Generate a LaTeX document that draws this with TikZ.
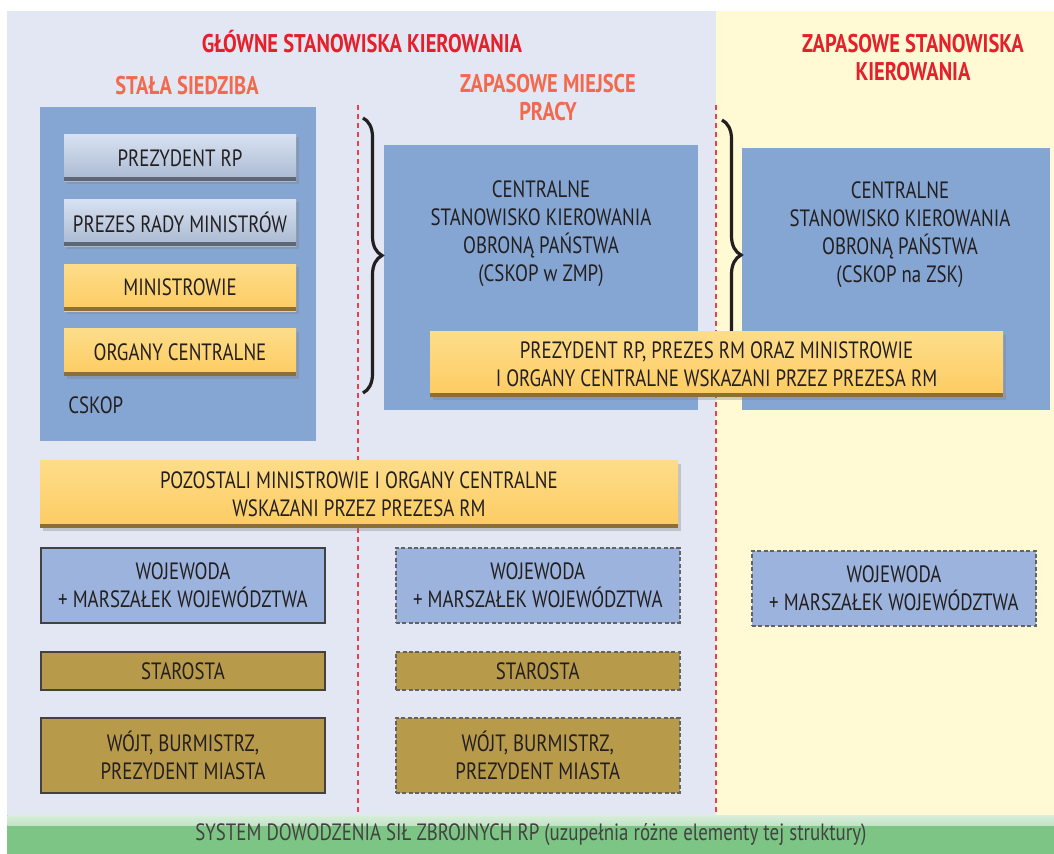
\documentclass[tikz,border=0pt]{standalone}
\usepackage{fontspec}
\setmainfont{PT Sans}[FakeStretch=0.80]
\usetikzlibrary{positioning,shadows,decorations.pathreplacing}
\definecolor{bgleft}{HTML}{E3E7F3}
\definecolor{bgright}{HTML}{FFF9D4}
\definecolor{panelblue}{HTML}{85A6D3}
\definecolor{ink}{HTML}{231F20}
\definecolor{titlered}{HTML}{E5202A}
\definecolor{salmon}{HTML}{F2694E}
\definecolor{lightbar}{HTML}{BCCDE8}
\definecolor{yellowbar}{HTML}{FDD46C}
\definecolor{wojblue}{HTML}{9CB4DD}
\definecolor{ochre}{HTML}{B89A4B}
\definecolor{band}{HTML}{7DC585}
\definecolor{guide}{HTML}{E8414A}

\begin{document}
\begin{tikzpicture}[x=0.5pt, y=-0.5pt, node distance=13.5pt,
  every node/.style={font=\fontsize{11.8}{14}\selectfont, text=ink, inner sep=0pt},
  title/.style={font=\bfseries\fontsize{12.8}{14}\selectfont, text=titlered, align=center},
  subtitle/.style={title, text=salmon},
  panel/.style={fill=panelblue, anchor=north west},
  bar/.style={minimum width=116pt, minimum height=23.5pt, align=center,
    drop shadow={shadow xshift=1.5pt, shadow yshift=-1.5pt, opacity=.35},
    path picture={\fill[black, opacity=.45] (path picture bounding box.south west) rectangle ([yshift=2pt]path picture bounding box.south east);}},
  bluebar/.style={bar, top color=lightbar!60!white, bottom color=lightbar!90!black},
  goldbar/.style={bar, top color=yellowbar!80!white, bottom color=yellowbar!90!orange},
  office/.style={minimum width=142pt, align=center, draw=ink!85, line width=0.9pt},
  spare/.style={draw=ink!70, dash pattern=on 2pt off 1.2pt},
  woj/.style={office, fill=wojblue, minimum height=37.5pt},
  starost/.style={office, fill=ochre, minimum height=19pt},
  gmina/.style={office, fill=ochre, minimum height=37.5pt},
  guideline/.style={draw=guide, dash pattern=on 2.5pt off 2pt, line width=0.6pt},
  curly/.style={draw=ink, line width=1.6pt, decorate, decoration={brace, amplitude=9.5pt}}]

\useasboundingbox (0,0) rectangle (1054,854);
\fill[white] (0,0) rectangle (1054,854);
\fill[bgleft] (7,11) rectangle (716,815);
\fill[bgright] (716,11) rectangle (1054,815);

% naglowki
\node[title] (glowne) at (362,42) {GŁÓWNE STANOWISKA KIEROWANIA};
\node[title] (zapasowe) at (913,58) {ZAPASOWE STANOWISKA\\KIEROWANIA};
\node[subtitle] (siedzibat) at (187,86) {STAŁA SIEDZIBA};
\node[subtitle] (zmpt) at (548,98) {ZAPASOWE MIEJSCE\\PRACY};

% panele CSKOP
\node[panel, minimum width=138pt, minimum height=167pt] (siedziba) at (40,107) {};
\node[panel, minimum width=157pt, minimum height=132.5pt] (zmp) at (384,145) {};
\node[panel, minimum width=154pt, minimum height=131pt] (zsk) at (742,148) {};
\node[align=center] (zmptxt) at (541,234) {CENTRALNE\\STANOWISKO KIEROWANIA\\OBRONĄ PAŃSTWA\\(CSKOP w ZMP)};
\node[align=center] (zsktxt) at (900,235) {CENTRALNE\\STANOWISKO KIEROWANIA\\OBRONĄ PAŃSTWA\\(CSKOP na ZSK)};

\draw[guideline] (358,105) -- (358,815);
\draw[guideline] (716,105) -- (716,815);

\coordinate (b1top) at (363,118);
\coordinate (b1bot) at (363,393);
\coordinate (b2top) at (722,120);
\coordinate (b2bot) at (722,390);
\draw[curly] (b1top) -- (b1bot);
\draw[curly] (b2top) -- (b2bot);

\node[bluebar] (prez) at (180,158) {PREZYDENT RP};
\node[bluebar, below=8.5pt of prez] (premier) {PREZES RADY MINISTRÓW};
\node[goldbar, below=8.5pt of premier] (min) {MINISTROWIE};
\node[goldbar, below=8.5pt of min] (organy) {ORGANY CENTRALNE};
\node[anchor=west] (cskop) at (68,405) {CSKOP};

\node[goldbar, minimum width=286.5pt, minimum height=32.5pt] (wskazani) at (716.5,364.5) {PREZYDENT RP, PREZES RM ORAZ MINISTROWIE\\I ORGANY CENTRALNE WSKAZANI PRZEZ PREZESA RM};
\node[goldbar, minimum width=319pt, minimum height=33.5pt] (pozostali) at (359,494.5) {POZOSTALI MINISTROWIE I ORGANY CENTRALNE\\WSKAZANI PRZEZ PREZESA RM};

% terenowe
\node[woj] (woj1) at (183,585.5) {WOJEWODA\\+ MARSZAŁEK WOJEWÓDZTWA};
\node[starost, below=of woj1] (star1) {STAROSTA};
\node[gmina, below=13pt of star1] (wojt1) {WÓJT, BURMISTRZ,\\PREZYDENT MIASTA};
\node[woj, spare, right=34.5pt of woj1] (woj2) {WOJEWODA\\+ MARSZAŁEK WOJEWÓDZTWA};
\node[starost, spare, right=34.5pt of star1] (star2) {STAROSTA};
\node[gmina, spare, right=34.5pt of wojt1] (wojt2) {WÓJT, BURMISTRZ,\\PREZYDENT MIASTA};
\node[woj, spare] (woj3) at (894,588.5) {WOJEWODA\\+ MARSZAŁEK WOJEWÓDZTWA};

\node[anchor=north west, minimum width=523.5pt, minimum height=19.5pt, fill=band, text=ink!85,
  path picture={\shade[top color=band!30!white, bottom color=band] (path picture bounding box.north west) rectangle ([yshift=-5pt]path picture bounding box.north east);}] (sdsz) at (7,815) {SYSTEM DOWODZENIA SIŁ ZBROJNYCH RP (uzupełnia różne elementy tej struktury)};
\end{tikzpicture}
\end{document}
